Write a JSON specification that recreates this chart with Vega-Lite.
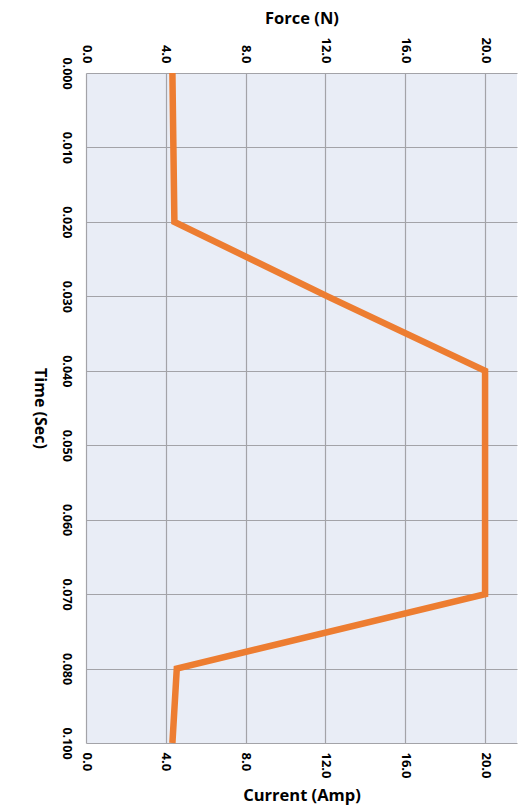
{
  "$schema": "https://vega.github.io/schema/vega-lite/v6.json",
  "width": 431,
  "height": 670,
  "autosize": {"type": "none"},
  "padding": {"left": 86, "top": 73, "right": 14, "bottom": 65},
  "background": "white",
  "config": {
    "view": {"fill": "#E9EDF6", "stroke": null},
    "font": "Open Sans"
  },
  "data": {
    "values": [
      {"t": "0.000", "force": 4.33},
      {"t": "0.010", "force": 4.38},
      {"t": "0.020", "force": 4.43},
      {"t": "0.030", "force": 12.1},
      {"t": "0.040", "force": 20},
      {"t": "0.050", "force": 20},
      {"t": "0.060", "force": 20},
      {"t": "0.070", "force": 20},
      {"t": "0.080", "force": 4.55},
      {"t": "0.100", "force": 4.33}
    ]
  },
  "layer": [
    {
      "mark": {"type": "line", "color": "#ED7D31", "strokeWidth": 6.5, "strokeJoin": "miter"},
      "encoding": {
        "y": {
          "field": "t", "type": "ordinal", "sort": null,
          "scale": {"type": "point", "padding": 0},
          "axis": {
            "title": "Time (Sec)", "titleAngle": 90, "titleBaseline": "top", "titleAlign": "center",
            "titleFontSize": 16, "titleFontWeight": "bold", "titleColor": "#000000", "titlePadding": 12,
            "labelAngle": 90, "labelAlign": "center", "labelBaseline": "top", "labelPadding": 14,
            "labelFontSize": 12.5, "labelFontWeight": "bold", "labelColor": "#000000",
            "ticks": false, "tickSize": 0, "domain": false,
            "grid": true, "gridColor": "#A3A3A8", "gridWidth": 1.2
          }
        },
        "x": {
          "field": "force", "type": "quantitative",
          "scale": {"domain": [0, 21.6], "nice": false, "zero": true},
          "axis": {
            "orient": "top", "title": "Force (N)", "values": [0, 4, 8, 12, 16, 20], "format": ".1f",
            "titleFontSize": 16.5, "titleFontWeight": "bold", "titleColor": "#000000", "titlePadding": 10,
            "labelAngle": 90, "labelAlign": "right", "labelBaseline": "middle", "labelPadding": 10,
            "labelFontSize": 13, "labelFontWeight": "bold", "labelColor": "#000000",
            "ticks": false, "tickSize": 0, "domain": false,
            "grid": true, "gridColor": "#A3A3A8", "gridWidth": 1.2
          }
        },
        "order": {"field": "t", "type": "ordinal"}
      }
    },
    {
      "mark": {"type": "line", "opacity": 0},
      "encoding": {
        "y": {"field": "t", "type": "ordinal", "sort": null},
        "x": {
          "field": "force", "type": "quantitative",
          "axis": {
            "orient": "bottom", "title": "Current (Amp)", "values": [0, 4, 8, 12, 16, 20], "format": ".1f",
            "titleFontSize": 16.5, "titleFontWeight": "bold", "titleColor": "#000000", "titlePadding": 9,
            "labelAngle": 90, "labelAlign": "left", "labelBaseline": "middle", "labelPadding": 9,
            "labelFontSize": 13, "labelFontWeight": "bold", "labelColor": "#000000",
            "ticks": false, "tickSize": 0, "domain": false, "grid": false
          }
        },
        "order": {"field": "t", "type": "ordinal"}
      }
    }
  ],
  "resolve": {"axis": {"x": "independent"}}
}
